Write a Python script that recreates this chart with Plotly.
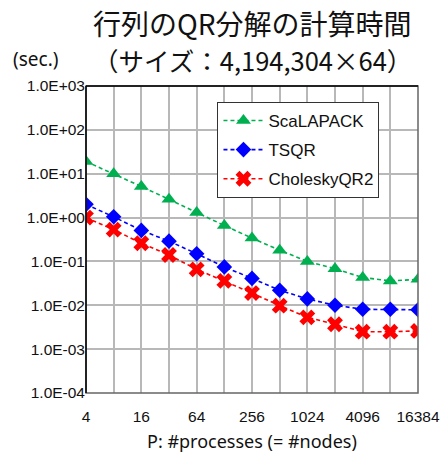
import plotly.graph_objects as go

procs = [4, 8, 16, 32, 64, 128, 256, 512, 1024, 2048, 4096, 8192, 16384]
scalapack = [19, 10, 5.1, 2.6, 1.3, 0.66, 0.34, 0.18, 0.10, 0.068, 0.043, 0.036, 0.039]
tsqr = [2.0, 1.04, 0.51, 0.29, 0.15, 0.075, 0.041, 0.022, 0.014, 0.010, 0.0081, 0.0081, 0.0079]
cholqr2 = [1.0, 0.53, 0.26, 0.14, 0.066, 0.036, 0.019, 0.0098, 0.0053, 0.0037, 0.0025, 0.0025, 0.0026]
x_ticklabels = ["4", "", "16", "", "64", "", "256", "", "1024", "", "4096", "", "16384"]
y_tickvals = [1e-4, 1e-3, 1e-2, 1e-1, 1e0, 1e1, 1e2, 1e3]
y_ticklabels = ["1.0E-04", "1.0E-03", "1.0E-02", "1.0E-01", "1.0E+00", "1.0E+01", "1.0E+02", "1.0E+03"]

fig = go.Figure()
series = [
    ("ScaLAPACK", scalapack, "#00B050", dict(symbol="triangle-up", size=13)),
    ("TSQR", tsqr, "#0000FF", dict(symbol="diamond", size=12)),
    ("CholeskyQR2", cholqr2, "#FF0000", dict(symbol="x", size=14)),
]
for name, ys, col, mk in series:
    fig.add_trace(go.Scatter(
        x=procs, y=ys, name=name, mode="lines+markers", legendgroup=name,
        line=dict(color=col, width=1.6, dash="4px,3px"),
        marker=dict(color=col, line=dict(width=0), **mk),
    ))

fig.update_layout(
    width=443, height=455,
    margin=dict(l=86, r=25, t=86, b=62, autoexpand=False),
    paper_bgcolor="white", plot_bgcolor="white",
    font=dict(family="Liberation Sans, Arial, sans-serif", color="#222"),
    showlegend=True,
    legend=dict(
        x=0.396, y=0.948, xanchor="left", yanchor="top",
        bgcolor="white", bordercolor="#333", borderwidth=1,
        font=dict(size=17, color="#111"), traceorder="grouped",
        tracegroupgap=4, itemwidth=40,
    ),
    xaxis=dict(
        type="log", range=[0.60206, 4.21442], automargin=False,
        tickvals=procs, ticktext=x_ticklabels,
        showgrid=True, gridcolor="#b8b8b8", gridwidth=1.5,
        showline=False, zeroline=False, ticks="", ticklabelstandoff=12,
        tickfont=dict(size=15.5, color="#111"),
    ),
    yaxis=dict(
        type="log", range=[-4, 3], automargin=False,
        tickvals=y_tickvals, ticktext=y_ticklabels,
        showgrid=True, gridcolor="#b8b8b8", gridwidth=1.5,
        showline=False, zeroline=False, ticks="",
        tickfont=dict(size=15.5, color="#111"),
    ),
    shapes=[
        dict(type="rect", xref="paper", yref="paper", x0=0, x1=1, y0=0, y1=1,
             line=dict(color="#666", width=1.5), layer="above"),
        dict(type="line", xref="paper", yref="paper", x0=0, x1=0, y0=0, y1=1,
             line=dict(color="#000", width=1.5), layer="above"),
        dict(type="line", xref="paper", yref="paper", x0=0, x1=1, y0=1, y1=1,
             line=dict(color="#000", width=1.5), layer="above"),
    ],
    annotations=[
        dict(text="行列のQR分解の計算時間", xref="paper", yref="paper", x=0.5, y=1,
             xanchor="center", yanchor="middle", yshift=63, showarrow=False,
             font=dict(family="Noto Sans CJK JP", size=28, color="#111")),
        dict(text="（サイズ：4,194,304×64）", xref="paper", yref="paper", x=0.5, y=1,
             xanchor="center", yanchor="middle", yshift=27, showarrow=False,
             font=dict(family="Noto Sans CJK JP", size=25.5, color="#111")),
        dict(text="(sec.)", xref="paper", yref="paper", x=0, y=1,
             xanchor="left", yanchor="middle", xshift=-75, yshift=27, showarrow=False,
             font=dict(family="Noto Sans", size=19, color="#111")),
        dict(text="P: #processes (= #nodes)", xref="paper", yref="paper", x=0.5, y=0,
             xanchor="center", yanchor="middle", yshift=-48, showarrow=False,
             font=dict(family="Noto Sans", size=18, color="#111")),
    ],
)

fig.write_html("out.html", config={"displayModeBar": False},
               post_script="document.body.style.margin='0';document.body.style.padding='0';")
